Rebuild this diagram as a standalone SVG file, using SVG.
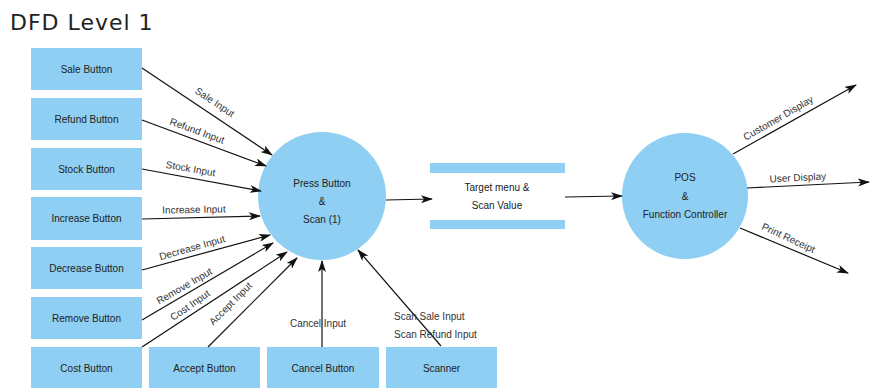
<svg xmlns="http://www.w3.org/2000/svg" width="870" height="388" viewBox="0 0 870 388">
<defs>
<marker id="ah" markerWidth="12" markerHeight="8" refX="11" refY="4" orient="auto" markerUnits="userSpaceOnUse">
<path d="M0,0 L12,4 L0,8 L3,4 Z" fill="#111"/>
</marker>
<style>
.box{fill:#8ecff3;}
.proc{fill:#8ecff3;}
.t{font-family:"Liberation Sans",Arial,sans-serif;font-size:10px;fill:#222;text-anchor:middle;}
.lb{font-family:"Liberation Sans",Arial,sans-serif;font-size:10px;fill:#333;text-anchor:middle;}
.c{stroke:#111;stroke-width:1.2;fill:none;marker-end:url(#ah);}
</style>
</defs>
<rect width="870" height="388" fill="#fff"/>
<text x="10" y="30" font-family="DejaVu Sans, sans-serif" font-size="22" letter-spacing="1" fill="#222">DFD Level 1</text>

<g id="sale"><rect class="box" x="31" y="48" width="111" height="42"/><text class="t" x="86.5" y="73">Sale Button</text></g>
<g id="refund"><rect class="box" x="31" y="98" width="111" height="42"/><text class="t" x="86.5" y="123">Refund Button</text></g>
<g id="stock"><rect class="box" x="31" y="148" width="111" height="42"/><text class="t" x="86.5" y="173">Stock Button</text></g>
<g id="increase"><rect class="box" x="31" y="197" width="111" height="43"/><text class="t" x="86.5" y="222">Increase Button</text></g>
<g id="decrease"><rect class="box" x="31" y="247" width="111" height="42"/><text class="t" x="86.5" y="272">Decrease Button</text></g>
<g id="remove"><rect class="box" x="31" y="297" width="111" height="42"/><text class="t" x="86.5" y="322">Remove Button</text></g>
<g id="cost"><rect class="box" x="31" y="347" width="111" height="42"/><text class="t" x="86.5" y="372">Cost Button</text></g>
<g id="accept"><rect class="box" x="149" y="347" width="111" height="42"/><text class="t" x="204.5" y="372">Accept Button</text></g>
<g id="cancel"><rect class="box" x="267" y="347" width="112" height="42"/><text class="t" x="323" y="372">Cancel Button</text></g>
<g id="scanner"><rect class="box" x="386" y="347" width="111" height="42"/><text class="t" x="441.5" y="372">Scanner</text></g>

<g id="p1"><circle class="proc" cx="322" cy="196" r="64"/>
<text class="t" x="322" y="187">Press Button</text><text class="t" x="322" y="205">&amp;</text><text class="t" x="322" y="223">Scan (1)</text></g>

<g id="store"><rect class="box" x="430" y="163" width="135" height="10"/><rect class="box" x="430" y="220" width="135" height="9"/>
<text class="t" x="497" y="191">Target menu &amp;</text><text class="t" x="497" y="209">Scan Value</text></g>

<g id="p2"><circle class="proc" cx="685" cy="196" r="63"/>
<text class="t" x="685" y="181">POS</text><text class="t" x="685" y="200">&amp;</text><text class="t" x="685" y="218">Function Controller</text></g>

<g id="connectors">
<line class="c" x1="142" y1="68" x2="272" y2="155"/>
<line class="c" x1="142" y1="120" x2="266" y2="166"/>
<line class="c" x1="142" y1="169" x2="261" y2="191"/>
<line class="c" x1="142" y1="219" x2="260" y2="216"/>
<line class="c" x1="142" y1="270" x2="270" y2="235"/>
<line class="c" x1="142" y1="320" x2="273" y2="243"/>
<line class="c" x1="142" y1="347" x2="287" y2="252"/>
<line class="c" x1="208" y1="347" x2="297" y2="258"/>
<line class="c" x1="322" y1="347" x2="322" y2="261"/>
<line class="c" x1="441" y1="346" x2="358" y2="250"/>
<line class="c" x1="386" y1="200" x2="432" y2="199"/>
<line class="c" x1="565" y1="197" x2="622" y2="196"/>
<line class="c" x1="733" y1="154" x2="856" y2="85"/>
<line class="c" x1="747" y1="188" x2="869" y2="182"/>
<line class="c" x1="740" y1="228" x2="848" y2="273"/>

<text class="lb" transform="translate(213,105) rotate(34)">Sale Input</text>
<text class="lb" transform="translate(196,134) rotate(20)">Refund Input</text>
<text class="lb" transform="translate(190,172) rotate(10)">Stock Input</text>
<text class="lb" transform="translate(194,213) rotate(-1)">Increase Input</text>
<text class="lb" transform="translate(193,251) rotate(-16)">Decrease Input</text>
<text class="lb" transform="translate(186,289) rotate(-30)">Remove Input</text>
<text class="lb" transform="translate(192,308) rotate(-35)">Cost Input</text>
<text class="lb" transform="translate(233,306) rotate(-45)">Accept Input</text>
<text class="lb" x="318" y="327">Cancel Input</text>
<text class="lb" x="394" y="320" style="text-anchor:start">Scan Sale Input</text>
<text class="lb" x="394" y="338" style="text-anchor:start">Scan Refund Input</text>
<text class="lb" transform="translate(780,121) rotate(-30)">Customer Display</text>
<text class="lb" transform="translate(798,181) rotate(-3)">User Display</text>
<text class="lb" transform="translate(787,241) rotate(25)">Print Receipt</text>
</g>
</svg>
